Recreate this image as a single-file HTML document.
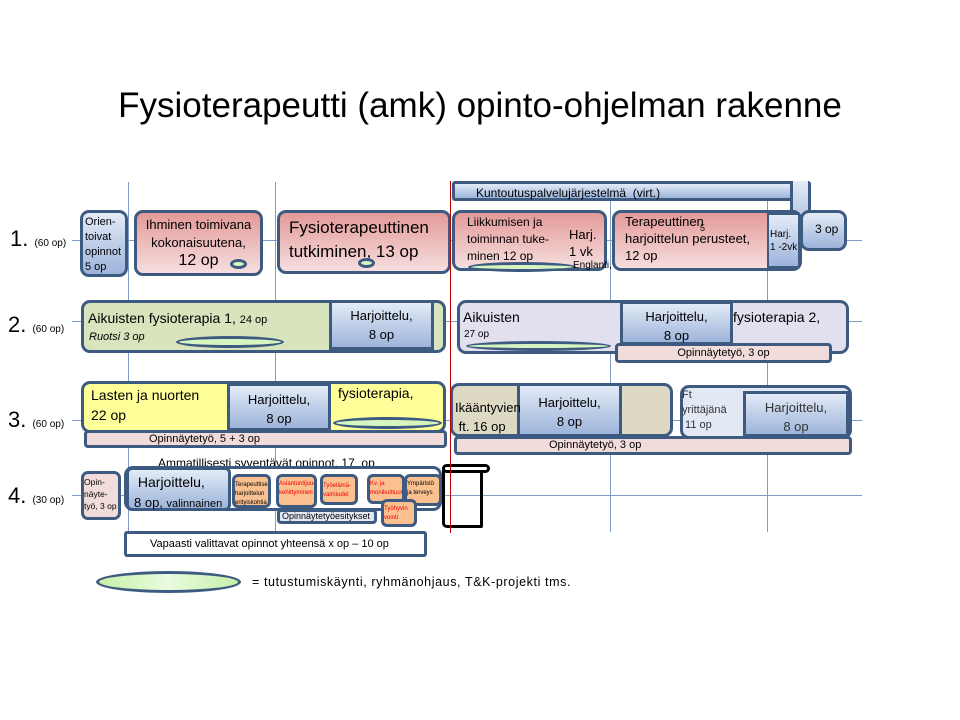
<!DOCTYPE html>
<html><head><meta charset="utf-8">
<style>
body{margin:0;width:960px;height:720px;background:#fff;position:relative;overflow:hidden;font-family:"Liberation Sans",sans-serif;color:#000}
.a{position:absolute;box-sizing:border-box}
.b{border:3px solid #3d5a80;border-radius:9px}
.pink{background:linear-gradient(#e39a98,#f6dede)}
.blue{background:linear-gradient(#e3ebf7,#9db4da)}
.lav{background:#e2e0ee}
.grn{background:#d7e4bd}
.yel{background:#ffff99}
.tan{background:#ddd9c3}
.op{background:#f2dcdb}
.org{background:#fac090;border:3px solid #3d5a80;border-radius:6px;font-size:6px;color:#e00;line-height:9px;overflow:hidden}
.ell{position:absolute;box-sizing:border-box;border:3px solid #3d5a80;border-radius:50%;background:#d6f5c0}
.hl{position:absolute;height:1px;background:#7f9cc4}
.vl{position:absolute;width:1px;background:#7f9cc4}
.t{position:absolute;white-space:nowrap}
</style></head><body>
<div class="t" style="left:0;width:960px;top:86px;text-align:center;font-size:35px">Fysioterapeutti (amk) opinto-ohjelman rakenne</div>

<!-- grid lines -->
<div class="vl" style="left:128px;top:182px;height:350px"></div>
<div class="vl" style="left:275px;top:182px;height:350px"></div>
<div class="vl" style="left:610px;top:182px;height:350px"></div>
<div class="vl" style="left:767px;top:182px;height:350px"></div>
<div class="hl" style="left:72px;top:240px;width:790px"></div>
<div class="hl" style="left:72px;top:321px;width:790px"></div>
<div class="hl" style="left:72px;top:420px;width:790px"></div>
<div class="hl" style="left:72px;top:495px;width:790px"></div>

<!-- row labels -->
<div class="t" style="left:10px;top:226px;font-size:22px">1. <span style="font-size:10px">(60 op)</span></div>
<div class="t" style="left:8px;top:312px;font-size:22px">2. <span style="font-size:10px">(60 op)</span></div>
<div class="t" style="left:8px;top:407px;font-size:22px">3. <span style="font-size:10px">(60 op)</span></div>
<div class="t" style="left:8px;top:483px;font-size:22px">4. <span style="font-size:10px">(30 op)</span></div>

<!-- Row 1 -->
<div class="a b blue" style="left:80px;top:210px;width:48px;height:67px;font-size:11px;line-height:15px;padding:2px 0 0 2px">Orien-<br>toivat<br>opinnot<br>5 op</div>
<div class="a b pink" style="left:134px;top:210px;width:129px;height:66px;text-align:center;font-size:13px;line-height:18px;padding-top:3px">Ihminen toimivana<br>kokonaisuutena,<br><span style="font-size:16px">12 op</span></div>
<div class="ell" style="left:230px;top:259px;width:17px;height:10px"></div>
<div class="a b pink" style="left:277px;top:210px;width:174px;height:64px;font-size:17px;line-height:24px;padding:3px 0 0 9px">Fysioterapeuttinen<br>tutkiminen, 13 op</div>
<div class="ell" style="left:358px;top:258px;width:17px;height:10px"></div>

<!-- Kuntoutus -->
<div class="a blue" style="left:452px;top:181px;width:359px;height:20px;border:3px solid #3d5a80;border-radius:3px"></div>
<div class="a blue" style="left:790px;top:181px;width:21px;height:62px;border:3px solid #3d5a80;border-top:none;border-radius:3px"></div>
<div class="t" style="left:476px;top:186px;font-size:12px">Kuntoutuspalvelujärjestelmä &nbsp;(virt.)</div>

<div class="a b pink" style="left:452px;top:210px;width:155px;height:61px"></div>
<div class="t" style="left:467px;top:214px;font-size:12px;line-height:17px">Liikkumisen ja<br>toiminnan tuke-<br>minen 12 op</div>
<div class="t" style="left:569px;top:226px;font-size:13px;line-height:17px">Harj.<br>1 vk</div>
<div class="ell" style="left:468px;top:262px;width:108px;height:10px"></div>
<div class="t" style="left:573px;top:260px;font-size:10px">Englanti, 3 op</div>

<div class="a b pink" style="left:612px;top:210px;width:190px;height:61px"></div>
<div class="a blue" style="left:767px;top:213px;width:33px;height:55px;border:2px solid #3d5a80;font-size:10px;line-height:13px;padding:13px 0 0 1px">Harj.<br>1 -2vk</div>
<div class="t" style="left:625px;top:213px;font-size:13px;line-height:17px">Terapeuttinen<br>harjoittelun perusteet,<br>12 op</div>
<div class="t" style="left:700px;top:223px;font-size:9px">5</div>
<div class="a b blue" style="left:800px;top:210px;width:47px;height:41px;font-size:12px;padding:9px 0 0 12px">3 op</div>

<!-- Row 2 -->
<div class="a b grn" style="left:81px;top:300px;width:365px;height:53px"></div>
<div class="a blue" style="left:329px;top:300px;width:105px;height:50px;border:3px solid #3d5a80;text-align:center;font-size:13px;line-height:19px;padding-top:3px">Harjoittelu,<br>8 op</div>
<div class="t" style="left:88px;top:310px;font-size:14px">Aikuisten fysioterapia 1, <span style="font-size:11px">24 op</span></div>
<div class="t" style="left:89px;top:331px;font-size:11px;font-style:italic">Ruotsi 3 op</div>
<div class="ell" style="left:176px;top:336px;width:108px;height:12px"></div>

<div class="a b lav" style="left:457px;top:300px;width:392px;height:54px"></div>
<div class="a blue" style="left:620px;top:301px;width:113px;height:44px;border:3px solid #3d5a80;text-align:center;font-size:13px;line-height:19px;padding-top:3px">Harjoittelu,<br>8 op</div>
<div class="t" style="left:463px;top:309px;font-size:14px">Aikuisten</div>
<div class="t" style="left:464px;top:329px;font-size:10px">27 op</div>
<div class="t" style="left:733px;top:309px;font-size:14px">fysioterapia 2,</div>
<div class="ell" style="left:466px;top:341px;width:145px;height:10px"></div>
<div class="a op" style="left:615px;top:343px;width:217px;height:20px;border:3px solid #3d5a80;border-radius:4px;text-align:center;font-size:11px;line-height:14px">Opinnäytetyö, 3 op</div>

<!-- Row 3 -->
<div class="a b yel" style="left:81px;top:381px;width:365px;height:52px"></div>
<div class="a blue" style="left:227px;top:383px;width:104px;height:48px;border:3px solid #3d5a80;text-align:center;font-size:13px;line-height:19px;padding-top:4px">Harjoittelu,<br>8 op</div>
<div class="t" style="left:91px;top:385px;font-size:14px;line-height:20px">Lasten ja nuorten<br>22 op</div>
<div class="t" style="left:338px;top:385px;font-size:14px">fysioterapia,</div>
<div class="ell" style="left:333px;top:417px;width:109px;height:12px"></div>
<div class="a op" style="left:84px;top:430px;width:363px;height:18px;border:3px solid #3d5a80;border-radius:4px;font-size:11px;line-height:12px;padding-left:62px">Opinnäytetyö, 5 + 3 op</div>

<div class="a b tan" style="left:450px;top:383px;width:223px;height:54px"></div>
<div class="a blue" style="left:517px;top:383px;width:105px;height:54px;border:3px solid #3d5a80;text-align:center;font-size:13px;line-height:19px;padding-top:7px">Harjoittelu,<br>8 op</div>
<div class="t" style="left:455px;top:398px;font-size:13px;line-height:19px">Ikääntyvien<br>&nbsp;ft. 16 op</div>

<div class="a b" style="left:680px;top:385px;width:172px;height:54px;background:#e3e9f4"></div>
<div class="a blue" style="left:743px;top:391px;width:106px;height:46px;border:3px solid #3d5a80;text-align:center;font-size:13px;line-height:19px;padding-top:4px;color:#333">Harjoittelu,<br>8 op</div>
<div class="t" style="left:682px;top:388px;font-size:11px;line-height:15px;color:#333">Ft<br>yrittäjänä<br>&nbsp;11 op</div>
<div class="a op" style="left:454px;top:436px;width:398px;height:19px;border:3px solid #3d5a80;border-radius:4px;font-size:11px;line-height:13px;padding-left:92px">Opinnäytetyö, 3 op</div>

<!-- Row 4 -->
<div class="t" style="left:158px;top:456px;font-size:12px">Ammatillisesti syventävät opinnot, 17 &nbsp;op</div>
<div class="a op" style="left:81px;top:471px;width:40px;height:49px;border:3px solid #3d5a80;border-radius:7px;font-size:8.5px;line-height:12px;padding:2px 0 0 0;white-space:nowrap;overflow:hidden">Opin-<br>näyte-<br>työ, 3 op</div>
<div class="a b" style="left:124px;top:466px;width:318px;height:45px;background:#fff"></div>
<div class="a blue" style="left:126px;top:467px;width:105px;height:44px;border:3px solid #3d5a80;border-radius:6px;font-size:14px;line-height:20px;padding:2px 0 0 5px;white-space:nowrap">&nbsp;Harjoittelu,<br><span style="font-size:13px">8 op, <span style="font-size:11px">valinnainen</span></span></div>
<div class="a org" style="left:232px;top:474px;width:39px;height:34px;color:#000;padding-top:4px">Terapeuttisen harjoittelun erityiskohtia</div>
<div class="a org" style="left:276px;top:474px;width:41px;height:34px;padding-top:3px">Asiantuntijuuden kehittyminen</div>
<div class="a org" style="left:320px;top:474px;width:38px;height:31px;padding-top:5px">Työelämä-valmiudet</div>
<div class="a org" style="left:367px;top:474px;width:38px;height:30px;padding-top:3px">Kv. ja monikulttuurisuus</div>
<div class="a org" style="left:404px;top:474px;width:38px;height:32px;color:#000;padding-top:3px">Ympäristö ja terveys</div>
<div class="a org" style="left:381px;top:499px;width:36px;height:28px;padding-top:3px">Työhyvin vointi</div>
<div class="a" style="left:277px;top:509px;width:100px;height:15px;border:3px solid #3d5a80;border-radius:4px;background:#e3e9f4;font-size:9px;line-height:9px;padding-left:2px;white-space:nowrap">Opinnäytetyöesitykset</div>
<!-- scroll -->
<div class="a" style="left:442px;top:464px;width:48px;height:9px;border:3px solid #000;border-radius:5px"></div>
<div class="a" style="left:442px;top:470px;width:41px;height:58px;border:3px solid #000;border-top:none;border-radius:0 0 2px 5px"></div>

<div class="a" style="left:124px;top:531px;width:303px;height:26px;border:3px solid #3d5a80;border-radius:3px;background:#fff;font-size:11px;line-height:20px;padding-left:23px;white-space:nowrap">Vapaasti valittavat opinnot yhteensä x op – 10 op</div>

<!-- red vertical line -->
<div class="a" style="left:450px;top:181px;width:1px;height:352px;background:#c00000"></div>

<!-- legend -->
<div class="ell" style="left:96px;top:571px;width:145px;height:22px;background:linear-gradient(90deg,#c6f0a8,#eafbe0,#c6f0a8)"></div>
<div class="t" style="left:252px;top:575px;font-size:12.5px;letter-spacing:0.6px">= tutustumiskäynti, ryhmänohjaus, T&amp;K-projekti tms.</div>
</body></html>
